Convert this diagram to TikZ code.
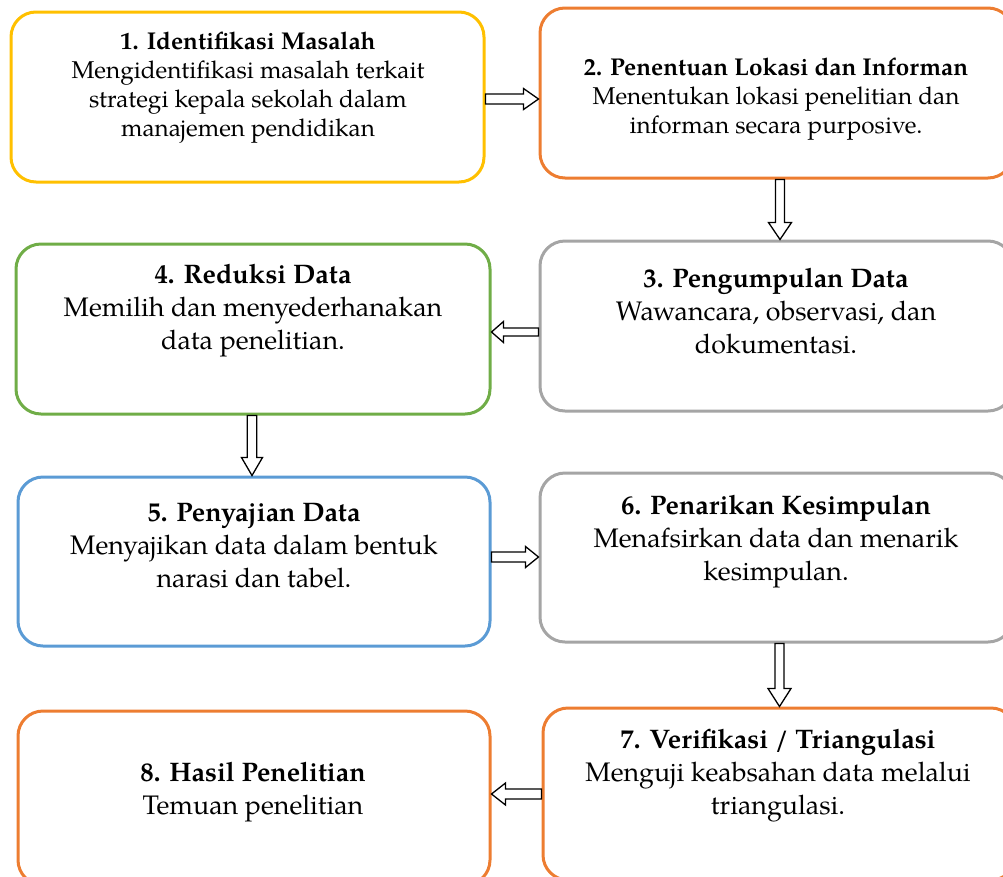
\documentclass[tikz,border=0pt]{standalone}
\usepackage{fontspec}
\setmainfont{TeX Gyre Pagella}
\usetikzlibrary{calc}
\definecolor{cyel}{HTML}{FFC000}
\definecolor{cora}{HTML}{ED7D31}
\definecolor{cgry}{HTML}{A5A5A5}
\definecolor{cgrn}{HTML}{70AD47}
\definecolor{cblu}{HTML}{5B9BD5}
\tikzset{
  box/.style={draw, rectangle, rounded corners=25pt, line width=3pt, minimum width=473pt, minimum height=170pt, inner sep=0pt},
  smalltxt/.style={align=center, font=\fontsize{24.3}{29}\selectfont, inner sep=0pt},
  bigtxt/.style={align=center, font=\fontsize{26.8}{33}\selectfont, inner sep=0pt},
  barrow/.style={draw=black, fill=white, line width=1.3pt, line join=miter}
}
\newcommand{\blockarr}[5]{%
  \coordinate (q) at ($(#2)!#5!(#1)$);
  \draw[barrow] ($(#1)!#3!90:(#2)$) -- ($(q)!#3!-90:(#1)$) -- ($(q)!#4!-90:(#1)$) -- (#2)
    -- ($(q)!#4!90:(#1)$) -- ($(q)!#3!90:(#1)$) -- ($(#1)!#3!-90:(#2)$) -- cycle;}
\begin{document}
\begin{tikzpicture}[x=1pt,y=-1pt]
\useasboundingbox (0,0) rectangle (1003,876);
\clip (0,0) rectangle (1003,876);
% boxes
\node[box, draw=cyel] (b1) at (247.5,97) {};
\node[box, draw=cora] (b2) at (776.5,93) {};
\node[box, draw=cgry] (b3) at (776.5,326) {};
\node[box, draw=cgrn, minimum width=474pt] (b4) at (253,329) {};
\node[box, draw=cblu, minimum width=472pt, minimum height=169pt] (b5) at (254,561.5) {};
\node[box, draw=cgry, minimum height=169pt] (b6) at (776.5,557.5) {};
\node[box, draw=cora, minimum height=172pt] (b7) at (779.5,794) {};
\node[box, draw=cora, minimum width=472pt, minimum height=174pt] (b8) at (254,798) {};
% texts
\node[smalltxt] (t1) at (248,88) {\textbf{1. Identifikasi Masalah}\\Mengidentifikasi masalah terkait\\strategi kepala sekolah dalam\\manajemen pendidikan};
\node[smalltxt] (t2) at (776,99) {\textbf{2. Penentuan Lokasi dan Informan}\\Menentukan lokasi penelitian dan\\informan secara purposive.};
\node[bigtxt] (t3) at (776,311) {\textbf{3. Pengumpulan Data}\\Wawancara, observasi, dan\\dokumentasi.};
\node[bigtxt] (t4) at (253,311) {\textbf{4. Reduksi Data}\\Memilih dan menyederhanakan\\data penelitian.};
\node[bigtxt] (t5) at (254,546) {\textbf{5. Penyajian Data}\\Menyajikan data dalam bentuk\\narasi dan tabel.};
\node[bigtxt] (t6) at (776,541.5) {\textbf{6. Penarikan Kesimpulan}\\Menafsirkan data dan menarik\\kesimpulan.};
\node[bigtxt] (t7) at (778,776) {\textbf{7. Verifikasi / Triangulasi}\\Menguji keabsahan data melalui\\triangulasi.};
\node[bigtxt] (t8) at (253,792.5) {\textbf{8. Hasil Penelitian}\\Temuan penelitian};
% arrow anchor coordinates
\coordinate (y12) at (0,99);
\coordinate (x23) at (780,0);
\coordinate (y34) at (0,332);
\coordinate (x45) at (252,0);
\coordinate (y56) at (0,557);
\coordinate (x67) at (779.5,0);
\coordinate (y78) at (0,794);
\coordinate (s12) at (b1.east |- y12);
\coordinate (e12) at (b2.west |- y12);
\coordinate (s23) at (b2.south -| x23);
\coordinate (e23) at (b3.north -| x23);
\coordinate (s34) at (b3.west |- y34);
\coordinate (e34) at (b4.east |- y34);
\coordinate (s45) at (b4.south -| x45);
\coordinate (e45) at (b5.north -| x45);
\coordinate (s56) at (b5.east |- y56);
\coordinate (e56) at (b6.west |- y56);
\coordinate (s67) at (b6.south -| x67);
\coordinate (e67) at (b7.north -| x67);
\coordinate (s78) at (b7.west |- y78);
\coordinate (e78) at (b8.east |- y78);
\blockarr{s12}{e12}{5pt}{10.5pt}{15pt}
\blockarr{s23}{e23}{4.5pt}{11.5pt}{17pt}
\blockarr{s34}{e34}{4pt}{10.5pt}{12pt}
\blockarr{s45}{e45}{4.7pt}{10.5pt}{18pt}
\blockarr{s56}{e56}{5pt}{10.5pt}{13pt}
\blockarr{s67}{e67}{4.5pt}{11.5pt}{18pt}
\blockarr{s78}{e78}{5pt}{11pt}{14pt}
\end{tikzpicture}
\end{document}
